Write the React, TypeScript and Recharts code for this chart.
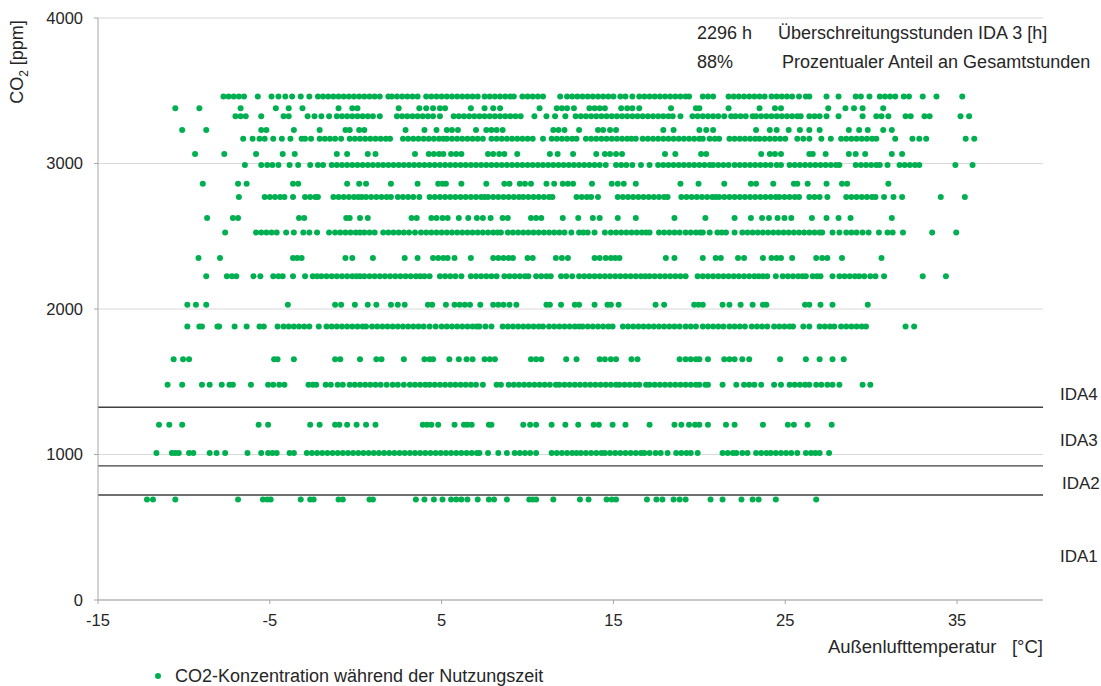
import React from 'react';
import { ScatterChart, Scatter, XAxis, YAxis, CartesianGrid, ReferenceLine } from 'recharts';

// CO2 levels (ppm) of the dot rows and the outdoor temperatures (°C) read for each row
const t3460 = [-7.7, -7.4, -7.1, -6.8, -6.5, -5.7, -4.9, -4.5, -4.1, -3.7, -3.2, -2.7, -2.2, -1.9, -1.6, -1.3, -1.0, -0.7, -0.4, -0.1, 0.2, 0.5, 0.8, 1.1, 1.4, 1.9, 2.1, 2.4, 2.7, 3.0, 3.3, 3.6, 4.1, 4.4, 4.7, 5.0, 5.3, 5.6, 5.9, 6.2, 6.5, 6.8, 7.1, 7.5, 7.8, 8.1, 8.4, 8.7, 9.0, 9.2, 9.7, 10.0, 10.3, 10.6, 10.9, 11.9, 12.3, 12.6, 12.9, 13.2, 13.5, 13.8, 14.1, 14.4, 14.7, 15.0, 15.4, 15.7, 16.1, 16.5, 16.8, 17.1, 17.4, 17.7, 18.0, 18.3, 18.6, 18.9, 19.2, 19.4, 20.2, 20.5, 20.8, 21.7, 22.0, 22.3, 22.6, 22.9, 23.2, 23.5, 23.8, 24.2, 24.5, 24.8, 25.1, 25.4, 25.8, 26.2, 26.4, 27.4, 28.1, 29.1, 29.4, 29.9, 30.5, 30.8, 31.1, 31.4, 31.9, 32.2, 33.0, 33.8, 35.3];
const t3380 = [-10.5, -9.1, -6.7, -4.65, -3.9, -3.1, -1.0, -0.2, 0.1, 2.5, 3.7, 4.1, 4.5, 4.9, 5.2, 6.7, 7.5, 8.0, 8.4, 10.7, 11.7, 12.0, 12.3, 12.7, 13.6, 13.9, 14.2, 14.5, 15.45, 15.8, 16.1, 16.5, 18.35, 19.8, 20.0, 21.7, 23.5, 24.4, 24.75, 27.5, 28.5, 29.0, 29.5, 30.7];
const t3325 = [-7.0, -6.7, -6.4, -5.5, -4.2, -3.9, -2.8, -2.4, -2.0, -1.55, -1.1, -0.8, -0.5, -0.2, 0.1, 0.4, 0.7, 1.0, 1.4, 2.4, 2.7, 3.0, 3.3, 3.6, 3.9, 4.2, 4.5, 4.9, 5.7, 6.0, 6.3, 6.6, 6.9, 7.2, 7.5, 7.8, 8.1, 8.4, 8.7, 9.0, 9.3, 9.6, 10.4, 11.1, 11.6, 12.2, 12.8, 13.1, 13.4, 13.7, 14.0, 14.3, 14.6, 14.9, 15.2, 15.5, 15.8, 16.1, 16.4, 16.7, 17.0, 17.3, 17.6, 17.9, 18.2, 18.45, 18.9, 19.6, 19.9, 20.2, 20.5, 20.8, 21.1, 21.45, 21.85, 22.1, 22.4, 22.7, 23.1, 23.3, 23.6, 23.9, 24.2, 24.5, 24.8, 25.1, 25.4, 25.7, 25.9, 26.4, 26.7, 27.0, 27.4, 28.1, 29.5, 30.3, 30.6, 31.0, 32.0, 32.3, 33.1, 33.4, 35.2, 35.7];
const t3230 = [-10.1, -8.7, -5.5, -5.2, -3.6, -2.1, -0.6, -0.35, 0.2, 0.5, 2.9, 4.0, 4.7, 5.3, 5.6, 5.95, 7.0, 7.6, 7.9, 8.2, 8.55, 11.5, 11.8, 12.15, 13.0, 14.1, 14.4, 14.8, 15.15, 17.9, 18.5, 20.0, 20.4, 20.8, 23.3, 24.1, 24.5, 25.2, 25.85, 26.4, 27.0, 28.7, 29.3, 29.8, 30.7, 31.2];
const t3170 = [-6.55, -6.0, -5.6, -5.3, -4.8, -4.3, -3.8, -3.15, -2.95, -2.6, -2.1, -1.8, -1.5, -1.2, -0.85, -0.35, -0.05, 0.25, 0.55, 0.85, 1.15, 1.45, 1.75, 2.0, 2.75, 3.05, 3.35, 3.65, 3.95, 4.25, 4.55, 4.85, 5.1, 5.3, 5.6, 5.9, 6.2, 6.5, 6.8, 7.1, 7.4, 7.9, 8.2, 8.5, 8.8, 9.1, 9.4, 9.7, 10.0, 10.3, 10.9, 11.4, 11.7, 12.0, 12.3, 12.6, 12.85, 13.4, 13.7, 14.0, 14.3, 14.6, 14.9, 15.2, 15.5, 15.8, 16.05, 16.3, 16.7, 17.0, 17.3, 17.6, 17.9, 18.2, 18.5, 18.8, 19.1, 19.4, 19.7, 20.0, 20.2, 20.6, 20.9, 21.15, 21.75, 22.05, 22.35, 22.65, 22.95, 23.25, 23.5, 23.8, 24.1, 24.4, 24.7, 25.0, 25.7, 26.05, 26.4, 27.1, 27.65, 28.25, 28.55, 28.85, 29.15, 29.45, 29.75, 30.05, 30.3, 31.4, 32.4, 32.8, 33.2, 35.5, 36.0];
const t3065 = [-9.35, -7.65, -5.8, -4.25, -3.55, -1.1, -0.5, 0.7, 1.15, 3.45, 4.25, 4.55, 4.85, 5.1, 5.55, 5.85, 6.15, 7.7, 8.0, 8.35, 8.65, 9.4, 11.3, 11.75, 12.65, 14.0, 14.5, 14.8, 15.15, 15.5, 18.0, 18.6, 20.1, 20.4, 23.6, 24.1, 24.4, 24.75, 26.4, 26.6, 27.35, 28.7, 29.1, 29.65, 31.2, 31.8];
const t2990 = [-6.45, -5.5, -5.15, -4.85, -4.5, -3.85, -3.35, -2.65, -2.2, -1.9, -1.4, -1.1, -0.8, -0.5, -0.2, 0.1, 0.4, 0.7, 1.0, 1.3, 1.6, 1.9, 2.2, 2.5, 2.8, 3.1, 3.4, 3.7, 4.0, 4.3, 4.6, 4.9, 5.2, 5.5, 5.8, 6.1, 6.4, 6.7, 7.0, 7.3, 7.6, 7.9, 8.2, 8.5, 8.8, 9.1, 9.4, 9.7, 10.0, 10.3, 10.6, 10.9, 11.2, 11.5, 11.8, 12.1, 12.4, 12.7, 13.0, 13.3, 13.6, 13.9, 14.2, 14.55, 15.15, 15.45, 15.75, 16.1, 16.6, 17.1, 17.6, 17.9, 18.2, 18.5, 18.8, 19.1, 19.4, 19.7, 20.0, 20.3, 20.6, 20.8, 21.1, 21.4, 21.7, 22.05, 22.35, 22.65, 22.95, 23.25, 23.55, 23.85, 24.15, 24.5, 24.75, 25.25, 25.55, 25.85, 26.15, 26.45, 26.75, 27.05, 27.35, 27.65, 27.95, 28.15, 29.1, 29.4, 29.7, 30.0, 30.3, 30.5, 30.95, 31.65, 31.95, 32.25, 32.55, 32.8, 34.9, 35.9];
const t2860 = [-8.9, -6.85, -6.35, -3.65, -3.35, -0.5, 0.2, 0.6, 2.05, 3.6, 4.8, 5.05, 5.25, 6.15, 7.6, 8.65, 8.95, 9.55, 9.85, 10.2, 11.1, 11.55, 12.05, 12.35, 12.65, 13.75, 14.9, 15.25, 15.6, 16.3, 18.9, 19.95, 21.45, 23.0, 23.3, 24.3, 25.5, 25.7, 26.3, 27.4, 28.3, 28.6, 31.0];
const t2770 = [-6.8, -5.3, -5.0, -4.7, -4.4, -4.15, -3.65, -2.95, -2.65, -2.35, -2.2, -1.3, -1.0, -0.7, -0.4, -0.1, 0.15, 0.35, 0.6, 0.9, 1.2, 1.5, 1.8, 2.05, 2.45, 2.75, 3.05, 3.35, 3.7, 4.3, 4.6, 4.9, 5.2, 5.5, 5.8, 6.1, 6.4, 6.7, 7.0, 7.3, 7.5, 7.7, 8.0, 8.3, 8.6, 8.9, 9.2, 9.5, 9.75, 10.05, 10.35, 10.65, 10.95, 11.25, 11.45, 12.85, 13.15, 13.45, 13.7, 14.1, 15.25, 15.55, 15.85, 16.15, 16.45, 16.75, 17.05, 17.35, 17.65, 17.95, 18.15, 18.95, 19.25, 19.55, 19.85, 20.15, 20.45, 20.75, 20.95, 21.15, 21.45, 21.75, 22.05, 22.35, 22.65, 22.95, 23.25, 23.55, 23.85, 24.15, 24.45, 24.65, 24.95, 25.25, 25.55, 25.8, 26.4, 26.7, 27.0, 27.45, 28.55, 28.85, 29.15, 29.45, 29.75, 30.05, 30.25, 30.75, 31.3, 31.8, 34.05, 35.45];
const t2625 = [-8.65, -7.15, -6.85, -3.3, -3.0, -0.55, -0.35, 0.25, 0.7, 3.25, 3.55, 4.4, 4.7, 5.05, 5.35, 6.0, 6.55, 7.05, 7.4, 7.85, 8.55, 8.85, 10.2, 10.5, 10.8, 12.05, 12.95, 13.8, 14.2, 15.25, 16.3, 18.55, 20.35, 22.05, 23.0, 23.65, 24.05, 24.55, 24.95, 25.35, 26.55, 27.4, 28.1, 28.8, 31.2];
const t2525 = [-7.6, -5.8, -5.5, -5.2, -4.9, -4.6, -4.05, -3.6, -3.05, -2.7, -2.25, -1.55, -1.2, -0.9, -0.6, -0.3, 0.0, 0.25, 0.5, 0.8, 1.1, 1.6, 1.9, 2.2, 2.5, 2.8, 3.1, 3.45, 3.8, 4.1, 4.4, 4.7, 5.0, 5.3, 5.6, 5.9, 6.2, 6.5, 6.8, 7.1, 7.4, 7.7, 8.0, 8.25, 8.45, 8.85, 9.15, 9.45, 9.75, 10.05, 10.35, 10.65, 10.95, 11.25, 11.55, 11.85, 12.15, 12.55, 13.0, 13.25, 13.5, 13.9, 14.5, 14.85, 15.15, 15.45, 15.75, 16.05, 16.35, 16.65, 16.9, 17.1, 17.65, 17.95, 18.25, 18.55, 18.85, 19.2, 19.5, 19.8, 20.05, 20.2, 20.6, 21.05, 21.3, 21.55, 22.05, 22.5, 22.8, 23.1, 23.4, 23.7, 24.0, 24.3, 24.6, 24.9, 25.2, 25.5, 25.8, 26.1, 26.4, 26.7, 27.0, 27.15, 27.75, 28.15, 28.55, 28.85, 29.15, 29.5, 29.85, 30.45, 30.95, 31.25, 31.85, 33.55, 34.95];
const t2350 = [-9.15, -7.9, -3.65, -3.4, -3.15, -0.6, -0.2, 1.0, 2.85, 3.6, 4.5, 4.8, 5.1, 5.35, 5.75, 6.7, 8.0, 8.3, 8.6, 8.9, 9.15, 10.0, 10.3, 11.65, 12.0, 12.35, 13.9, 14.2, 14.55, 14.85, 15.1, 15.35, 18.05, 18.55, 20.2, 20.95, 21.25, 22.25, 22.6, 23.7, 24.2, 24.5, 24.75, 25.4, 26.8, 27.15, 27.45, 28.3, 30.6];
const t2225 = [-8.7, -7.5, -7.2, -6.95, -5.95, -5.55, -4.8, -4.5, -4.25, -3.65, -2.95, -2.5, -2.25, -2.0, -1.7, -1.4, -1.1, -0.8, -0.5, -0.2, 0.05, 0.25, 0.5, 0.8, 1.1, 1.4, 1.7, 2.0, 2.3, 2.6, 2.9, 3.2, 3.5, 3.75, 4.0, 4.3, 4.9, 5.2, 5.5, 5.8, 6.15, 6.7, 7.0, 7.3, 7.6, 7.9, 8.2, 8.65, 8.95, 9.25, 9.55, 9.85, 10.05, 10.5, 10.8, 11.1, 11.35, 11.95, 12.25, 12.6, 13.0, 13.3, 13.6, 13.9, 14.2, 14.5, 14.8, 15.1, 15.4, 15.7, 16.0, 16.3, 16.6, 16.85, 17.1, 17.4, 17.7, 18.0, 18.3, 18.6, 18.9, 19.2, 19.9, 20.2, 20.5, 20.8, 21.1, 21.4, 21.7, 22.0, 22.3, 22.6, 22.9, 23.2, 23.45, 23.7, 23.95, 24.45, 24.85, 25.15, 25.45, 25.75, 26.0, 26.2, 26.6, 26.85, 27.05, 27.75, 28.15, 28.45, 28.75, 29.05, 29.3, 29.6, 29.95, 30.25, 30.75, 33.0, 34.35];
const t2030 = [-9.8, -9.3, -8.7, -3.95, -1.2, -0.85, -0.05, 0.7, 1.2, 2.05, 2.45, 2.85, 4.2, 4.45, 5.25, 5.75, 6.05, 6.35, 6.65, 7.25, 8.0, 8.3, 8.6, 8.95, 9.35, 11.1, 11.3, 11.95, 12.75, 13.0, 13.9, 14.65, 14.85, 15.3, 17.45, 17.95, 19.7, 19.95, 20.2, 21.35, 21.75, 22.4, 23.1, 23.7, 23.9, 26.15, 26.4, 27.05, 27.75, 29.8];
const t1880 = [-9.8, -9.1, -8.95, -8.05, -7.95, -7.05, -6.35, -5.6, -5.35, -4.55, -4.2, -3.9, -3.6, -3.3, -3.0, -2.7, -2.15, -1.7, -1.4, -1.1, -0.8, -0.5, -0.2, 0.1, 0.4, 0.6, 0.95, 1.25, 1.55, 1.85, 2.15, 2.45, 2.75, 3.05, 3.35, 3.65, 3.95, 4.3, 4.65, 5.0, 5.3, 5.6, 5.9, 6.2, 6.5, 6.8, 7.05, 7.2, 7.55, 7.9, 8.55, 8.85, 9.15, 9.45, 9.75, 10.05, 10.35, 10.65, 10.9, 11.25, 11.55, 11.85, 12.15, 12.45, 12.75, 13.0, 13.2, 13.5, 13.8, 14.1, 14.4, 14.7, 14.95, 15.55, 15.85, 16.15, 16.45, 16.75, 17.05, 17.35, 17.65, 17.95, 18.25, 18.55, 18.85, 19.2, 19.5, 19.8, 20.2, 20.5, 20.8, 21.1, 21.4, 21.75, 22.05, 22.35, 22.65, 23.05, 23.35, 23.65, 23.95, 24.35, 24.65, 24.95, 25.25, 25.45, 26.05, 26.4, 27.0, 27.3, 27.6, 27.85, 28.25, 28.55, 28.85, 29.15, 29.45, 29.7, 32.0, 32.5];
const t1655 = [-10.6, -10.05, -9.7, -4.75, -4.55, -3.6, -1.2, -0.9, 0.25, 1.2, 1.5, 2.8, 4.0, 4.3, 4.5, 5.45, 6.0, 6.45, 6.8, 7.5, 7.8, 8.1, 10.2, 10.5, 10.8, 12.25, 12.85, 14.2, 14.5, 14.85, 15.15, 16.05, 16.4, 18.85, 19.2, 19.5, 19.8, 20.0, 20.5, 21.45, 21.75, 22.05, 22.5, 22.9, 24.7, 26.2, 27.0, 27.75, 28.4];
const t1480 = [-10.95, -10.1, -8.95, -8.5, -7.8, -7.35, -7.15, -6.1, -5.1, -4.8, -4.45, -4.15, -2.75, -2.5, -2.3, -1.75, -1.45, -1.05, -0.75, -0.35, -0.05, 0.25, 0.55, 0.85, 1.15, 1.45, 1.8, 2.15, 2.45, 2.8, 3.15, 3.45, 3.75, 4.05, 4.3, 4.6, 4.9, 5.2, 5.5, 5.8, 6.1, 6.4, 6.7, 7.0, 7.4, 8.2, 8.45, 8.9, 9.2, 9.5, 9.8, 10.1, 10.4, 10.7, 11.0, 11.3, 11.65, 11.85, 12.15, 12.45, 12.75, 13.05, 13.35, 13.65, 13.95, 14.25, 14.55, 14.85, 15.15, 15.35, 15.65, 15.95, 16.25, 16.5, 16.9, 17.1, 17.4, 17.7, 18.0, 18.3, 18.6, 18.9, 19.2, 19.5, 19.8, 20.0, 20.35, 20.5, 21.35, 22.15, 22.6, 22.9, 23.2, 23.6, 24.35, 24.75, 25.25, 25.55, 25.85, 26.15, 26.4, 26.8, 27.1, 27.45, 27.75, 28.15, 29.5, 29.95];
const t1205 = [-11.45, -10.85, -10.1, -5.65, -5.1, -2.65, -2.1, -1.2, -0.95, -0.5, 0.05, 0.6, 1.15, 3.9, 4.15, 4.4, 4.8, 5.75, 6.3, 6.5, 6.75, 7.75, 7.9, 9.75, 10.15, 10.5, 11.4, 12.2, 12.95, 13.85, 14.15, 14.95, 15.7, 17.1, 18.55, 18.95, 19.4, 19.75, 20.0, 20.5, 21.55, 22.05, 23.7, 25.15, 25.5, 26.3, 27.7];
const t1010 = [-11.6, -10.7, -10.5, -10.3, -9.7, -9.45, -8.5, -8.1, -7.6, -6.3, -5.5, -5.1, -4.85, -4.6, -3.85, -3.6, -2.85, -2.55, -2.25, -1.95, -1.65, -1.35, -1.05, -0.75, -0.45, -0.15, 0.15, 0.45, 0.75, 1.05, 1.35, 1.65, 1.95, 2.25, 2.55, 2.85, 3.15, 3.45, 3.75, 4.05, 4.35, 4.65, 4.95, 5.25, 5.55, 5.85, 6.15, 6.45, 6.75, 7.05, 7.2, 7.7, 8.3, 8.8, 9.25, 9.55, 9.85, 10.15, 10.5, 11.4, 11.7, 12.0, 12.3, 12.6, 12.85, 13.1, 13.4, 13.7, 14.0, 14.3, 14.5, 14.8, 15.1, 15.4, 15.7, 16.0, 16.3, 16.6, 16.8, 17.1, 17.45, 17.75, 18.15, 18.65, 18.95, 19.25, 19.5, 19.9, 21.35, 21.65, 21.95, 22.15, 22.5, 22.8, 23.3, 23.6, 23.9, 24.15, 24.45, 24.75, 25.05, 25.35, 25.7, 26.2, 26.5, 26.75, 27.0, 27.55];
const t690 = [-12.15, -11.8, -10.5, -6.85, -5.4, -5.15, -4.95, -3.2, -2.65, -2.45, -1.0, -0.75, 0.8, 1.0, 3.5, 4.0, 4.55, 5.05, 5.55, 5.85, 6.15, 6.5, 7.1, 7.75, 8.05, 8.8, 10.1, 10.3, 10.5, 11.5, 13.05, 13.55, 14.6, 14.9, 15.15, 16.95, 17.5, 17.85, 18.5, 18.85, 19.2, 20.65, 21.35, 22.45, 23.1, 23.45, 24.45, 26.8];

const levels = [3460, 3380, 3325, 3230, 3170, 3065, 2990, 2860, 2770, 2625, 2525, 2350, 2225, 2030, 1880, 1655, 1480, 1205, 1010, 690];
const rowTemps = [t3460, t3380, t3325, t3230, t3170, t3065, t2990, t2860, t2770, t2625, t2525, t2350, t2225, t2030, t1880, t1655, t1480, t1205, t1010, t690];

// IDA class thresholds (ppm)
const idaLines = [1325, 922, 722];
const xTicks = [-15, -5, 5, 15, 25, 35];
const yTicks = [0, 1000, 2000, 3000, 4000];

const points = levels.flatMap((ppm, i) => rowTemps[i].map((t) => ({ t, ppm })));

const FONT = '"Liberation Sans", Arial, sans-serif';
const GREEN = '#00b050';
const TXT = '#262626';

const Dot = (props: any) => <circle cx={props.cx} cy={props.cy} r={3} fill={GREEN} />;

const abs = (left: number, top: number, size = 18, extra: React.CSSProperties = {}): React.CSSProperties => ({
  position: 'absolute',
  left,
  top,
  lineHeight: '20px',
  whiteSpace: 'pre',
  fontFamily: FONT,
  fontSize: size,
  color: TXT,
  ...extra,
});

export default function App() {
  return (
    <div style={{ position: 'absolute', left: 0, top: 0, width: 1101, height: 686, overflow: 'hidden', background: '#fff' }}>
      <ScatterChart width={1101} height={686} margin={{ top: 18, right: 58, left: 0, bottom: 46 }}>
        <CartesianGrid vertical={false} stroke="#d9d9d9" strokeWidth={1} />
        <XAxis
          type="number"
          dataKey="t"
          domain={[-15, 40]}
          ticks={xTicks}
          height={40}
          tickSize={4}
          tickMargin={10}
          axisLine={{ stroke: '#a6a6a6' }}
          tickLine={{ stroke: '#a6a6a6' }}
          tick={{ fill: TXT, fontSize: 16.5, fontFamily: FONT }}
          interval={0}
        />
        <YAxis
          type="number"
          dataKey="ppm"
          domain={[0, 4000]}
          ticks={yTicks}
          width={98}
          tickSize={4}
          tickMargin={11}
          axisLine={{ stroke: '#a6a6a6' }}
          tickLine={{ stroke: '#a6a6a6' }}
          tick={{ fill: TXT, fontSize: 16.5, fontFamily: FONT }}
          interval={0}
        />
        {idaLines.map((v) => (
          <ReferenceLine key={v} y={v} stroke="#404040" strokeWidth={1.4} ifOverflow="extendDomain" />
        ))}
        <Scatter data={points} shape={Dot} isAnimationActive={false} />
      </ScatterChart>

      <div style={abs(17, 62, 18, { transform: 'translate(-50%, -50%) rotate(-90deg)' })}>
        CO<sub style={{ fontSize: 12, verticalAlign: 'sub', lineHeight: 0 }}>2</sub> [ppm]
      </div>
      <div style={abs(0, 637, 18.5, { left: 'auto', right: 58 } as React.CSSProperties)}>{'Außenlufttemperatur   [°C]'}</div>

      <div style={abs(697, 23)}>2296 h</div>
      <div style={abs(778, 23)}>Überschreitungsstunden IDA 3 [h]</div>
      <div style={abs(697, 52)}>88%</div>
      <div style={abs(782, 52)}>Prozentualer Anteil an Gesamtstunden</div>

      <div style={abs(1060, 384.5, 17)}>IDA4</div>
      <div style={abs(1060, 431, 17)}>IDA3</div>
      <div style={abs(1062, 474, 17)}>IDA2</div>
      <div style={abs(1060, 546.5, 17)}>IDA1</div>

      <div
        style={{
          position: 'absolute',
          left: 155,
          top: 673,
          width: 6,
          height: 6,
          borderRadius: 3,
          background: GREEN,
        }}
      />
      <div style={abs(175, 666)}>CO2-Konzentration während der Nutzungszeit</div>
    </div>
  );
}
